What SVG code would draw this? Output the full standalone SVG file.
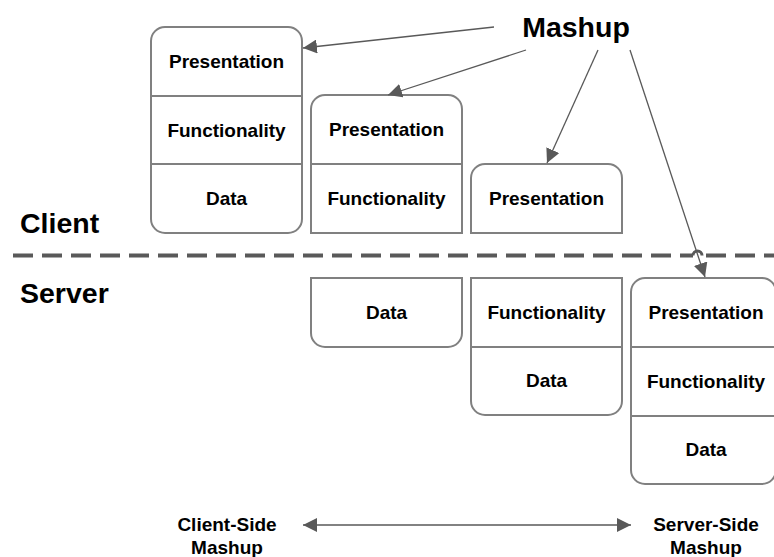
<svg xmlns="http://www.w3.org/2000/svg" width="774" height="557" viewBox="0 0 774 557">
<defs>
<style>
.box{fill:#fff;stroke:#808080;stroke-width:2}
.div{stroke:#808080;stroke-width:2;fill:none}
.t{font-family:"Liberation Sans",Arial,sans-serif;font-weight:bold;font-size:19px;fill:#000;text-anchor:middle}
.big{font-family:"Liberation Sans",Arial,sans-serif;font-weight:bold;font-size:28.5px;fill:#000}
.conn{stroke:#595959;stroke-width:1.3;fill:none}
</style>
<marker id="ah" viewBox="0 0 10 10" refX="10" refY="5" markerWidth="14" markerHeight="14" markerUnits="userSpaceOnUse" orient="auto-start-reverse">
<path d="M0 0 L10 5 L0 10 Z" fill="#595959"/>
</marker>
</defs>
<rect width="774" height="557" fill="#fff"/>

<g id="client-label"><text class="big" x="20" y="233">Client</text></g>
<g id="server-label"><text class="big" x="20" y="303">Server</text></g>
<g id="mashup-label"><text class="big" x="576" y="37" text-anchor="middle">Mashup</text></g>

<g id="divider">
<path d="M13 255.5 H693" stroke="#595959" stroke-width="4" fill="none" stroke-dasharray="20 9"/>
<path d="M693 255.5 A4.5 4.5 0 0 1 702 255.5" stroke="#595959" stroke-width="3" fill="none"/>
<path d="M702 255.5 H774" stroke="#595959" stroke-width="4" fill="none" stroke-dasharray="20 9" stroke-dashoffset="-4"/>
</g>

<g id="box1">
<rect class="box" x="151" y="27" width="151" height="206" rx="14"/>
<path class="div" d="M151 96 H302 M151 164 H302"/>
<text class="t" x="226.5" y="68">Presentation</text>
<text class="t" x="226.5" y="136.5">Functionality</text>
<text class="t" x="226.5" y="205">Data</text>
</g>

<g id="box2">
<path class="box" d="M311 233 V109 A14 14 0 0 1 325 95 H448 A14 14 0 0 1 462 109 V233 Z"/>
<path class="div" d="M311 164 H462"/>
<text class="t" x="386.5" y="136">Presentation</text>
<text class="t" x="386.5" y="205">Functionality</text>
</g>

<g id="box3">
<path class="box" d="M471 233 V178 A14 14 0 0 1 485 164 H608 A14 14 0 0 1 622 178 V233 Z"/>
<text class="t" x="546.5" y="205">Presentation</text>
</g>

<g id="box4">
<path class="box" d="M311 278 H462 V333 A14 14 0 0 1 448 347 H325 A14 14 0 0 1 311 333 Z"/>
<text class="t" x="386.5" y="319">Data</text>
</g>

<g id="box5">
<path class="box" d="M471 278 H622 V401 A14 14 0 0 1 608 415 H485 A14 14 0 0 1 471 401 Z"/>
<path class="div" d="M471 347 H622"/>
<text class="t" x="546.5" y="319">Functionality</text>
<text class="t" x="546.5" y="387">Data</text>
</g>

<g id="box6">
<rect class="box" x="631" y="278" width="145" height="206" rx="14"/>
<path class="div" d="M631 347 H776 M631 416 H776"/>
<text class="t" x="706" y="319">Presentation</text>
<text class="t" x="706" y="387.5">Functionality</text>
<text class="t" x="706" y="456">Data</text>
</g>

<g id="client-side-label">
<text class="t" x="227" y="531">Client-Side</text>
<text class="t" x="227" y="554">Mashup</text>
</g>
<g id="server-side-label">
<text class="t" x="706" y="531">Server-Side</text>
<text class="t" x="706" y="554">Mashup</text>
</g>

<g id="connectors">
<line class="conn" x1="494" y1="27" x2="303" y2="48" marker-end="url(#ah)"/>
<line class="conn" x1="526" y1="50" x2="388" y2="95" marker-end="url(#ah)"/>
<line class="conn" x1="598" y1="50" x2="547" y2="163" marker-end="url(#ah)"/>
<line class="conn" x1="630" y1="50" x2="705" y2="277" marker-end="url(#ah)"/>
<line class="conn" x1="303" y1="525" x2="631" y2="525" marker-start="url(#ah)" marker-end="url(#ah)"/>
</g>
</svg>
